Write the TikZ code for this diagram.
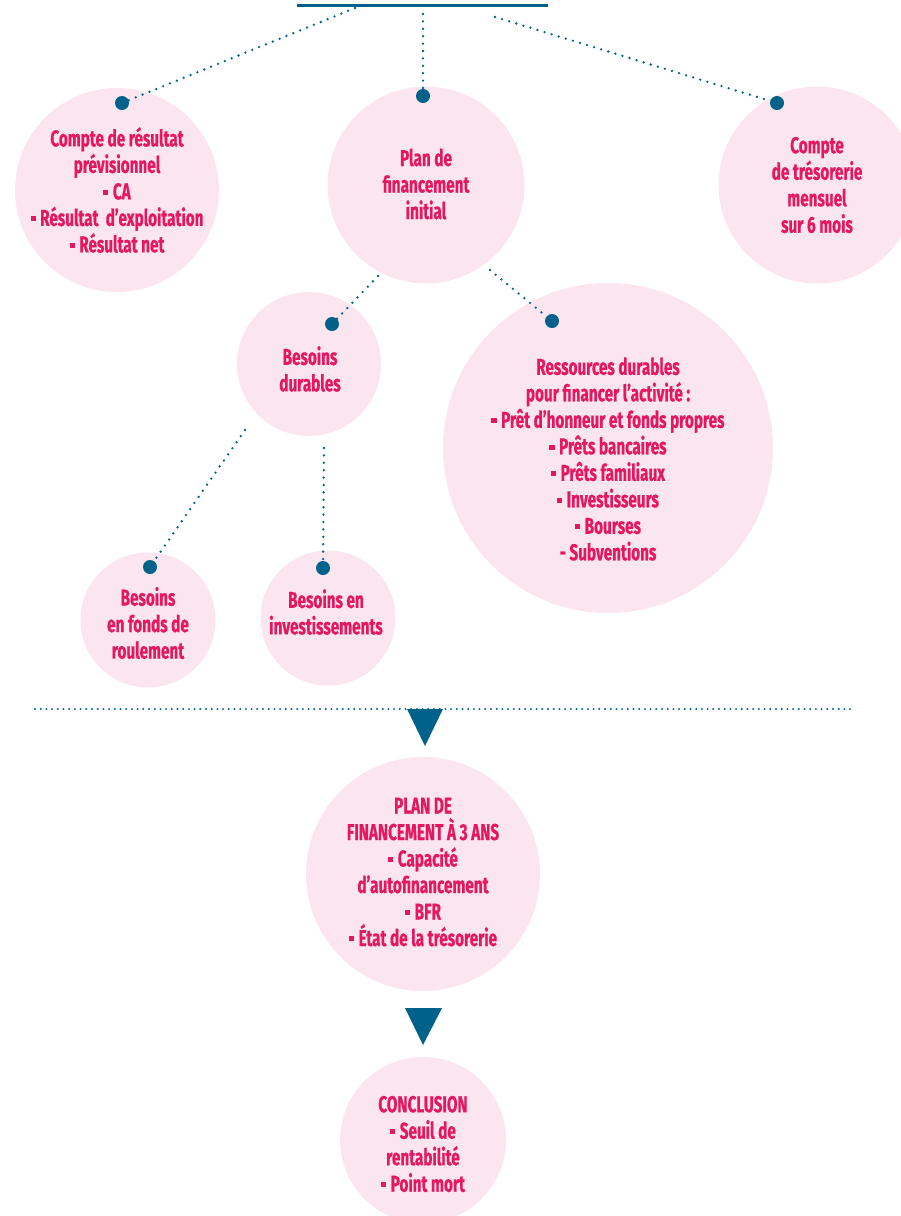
\documentclass[tikz,border=0pt]{standalone}
\usepackage{fontspec}
\setmainfont{Fira Sans}[FakeStretch=0.665,FakeBold=0.6,UprightFont=* Bold,BoldFont=* Bold]
\definecolor{tealc}{HTML}{00628B}
\definecolor{pinkt}{HTML}{E5175E}
\definecolor{pinkf}{HTML}{FBE6EF}
\newcommand{\bul}{\rule[0.2em]{0.22em}{0.22em}\hspace{0.2em}}
\begin{document}
\begin{tikzpicture}[x=1pt,y=-1pt,
  bubble/.style={circle,fill=pinkf,draw=none,inner sep=0pt,minimum size=#1},
  lbl/.style={text=pinkt,align=center,font=\fontsize{23}{26.5}\selectfont,inner sep=0pt},
  knob/.style={circle,fill=tealc,inner sep=0pt,minimum size=14pt},
  dotline/.style={tealc,line width=2.6pt,line cap=round,dash pattern=on 0pt off 7.4pt},
  tri/.style={fill=tealc,draw=none}]
\useasboundingbox (0,0) rectangle (901,1216);
\clip (0,0) rectangle (901,1216);
% top bar
\coordinate (barL) at (297,5);
\coordinate (barR) at (548,5);
\draw[tealc,line width=3pt] (barL) -- (barR);
\coordinate (s1) at (355,8);
\coordinate (s2) at (423,14);
\coordinate (s3) at (495,17);
% bubbles
\node[bubble=204pt] (c1) at (117,190) {};
\node[bubble=197pt] (c2) at (426,185) {};
\node[bubble=197pt] (c3) at (817,185) {};
\node[bubble=144pt] (c4) at (309,364) {};
\node[bubble=330pt] (c5) at (608,448) {};
\node[bubble=135pt] (c6) at (148,620) {};
\node[bubble=135pt] (c7) at (328,618) {};
\node[bubble=234pt] (c8) at (423,874) {};
\node[bubble=166pt] (c9) at (423,1140) {};
% labels
\node[lbl] (t1) at (117,190) {Compte de résultat\\prévisionnel\\\bul CA\\\bul Résultat\ \ d’exploitation\\\bul Résultat net};
\node[lbl] (t2) at (426,184) {Plan de\\financement\\initial};
\node[lbl] (t3) at (817,185) {Compte\\de trésorerie\\mensuel\\sur 6 mois};
\node[lbl] (t4) at (310,369) {Besoins\\durables};
\node[lbl] (t5) at (608,459) {Ressources durables\\pour financer l’activité :\\\bul Prêt d’honneur et fonds propres\\\bul Prêts bancaires\\\bul Prêts familiaux\\\bul Investisseurs\\\bul Bourses\\- Subventions};
\node[lbl] (t6) at (148,623) {Besoins\\en fonds de\\roulement};
\node[lbl] (t7) at (326,612) {Besoins en\\investissements};
\node[lbl] (t8) at (423,872) {PLAN DE\\FINANCEMENT À 3 ANS\\\bul Capacité\\d’autofinancement\\\bul BFR\\\bul État de la trésorerie};
\node[lbl] (t9) at (423,1144) {CONCLUSION\\\bul Seuil de\\rentabilité\\\bul Point mort};
% knobs
\node[knob] (k1) at (122,103) {};
\node[knob] (k2) at (423,96) {};
\node[knob] (k3) at (777,103) {};
\node[knob] (k4) at (332,324) {};
\node[knob] (k5) at (552,321) {};
\node[knob] (k6) at (150,567) {};
\node[knob] (k7) at (323,568) {};
% connector starts
\coordinate (s4) at (378,276);
\coordinate (s5) at (490,270);
\coordinate (s6) at (245,430);
\coordinate (s7) at (324,448);
% connectors
\draw[dotline] (s1) -- (k1);
\draw[dotline] (s2) -- (k2);
\draw[dotline] (s3) -- (k3);
\draw[dotline] (s4) -- (k4);
\draw[dotline] (s5) -- (k5);
\draw[dotline] (s6) -- (k6);
\draw[dotline] (s7) -- (k7);
% separator
\coordinate (hL) at (35,709);
\coordinate (hR) at (855,709);
\draw[dotline,dash pattern=on 0pt off 5.7pt,line width=2.2pt] (hL) -- (hR);
% triangles
\coordinate (a1) at (407,709);
\coordinate (a2) at (443,709);
\coordinate (a3) at (425,746);
\fill[tri] (a1) -- (a2) -- (a3) -- cycle;
\coordinate (b1) at (405,1008);
\coordinate (b2) at (442,1008);
\coordinate (b3) at (423,1045);
\fill[tri] (b1) -- (b2) -- (b3) -- cycle;
\end{tikzpicture}
\end{document}
